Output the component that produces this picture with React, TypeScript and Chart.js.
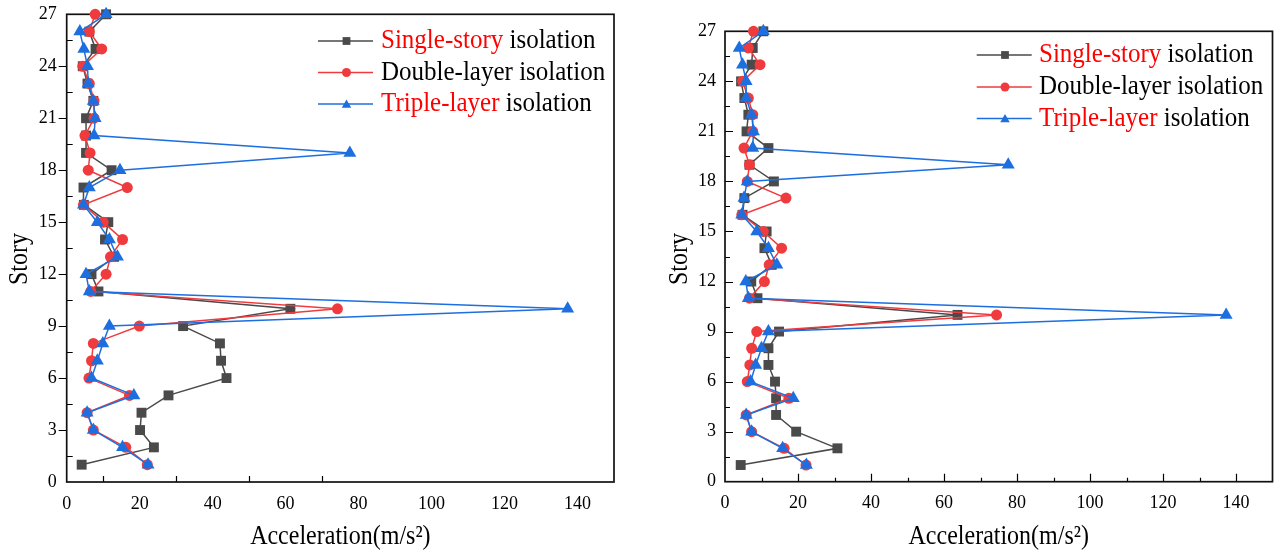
import React, { useEffect, useRef } from 'react';
import { Chart, registerables } from 'chart.js';

Chart.register(...registerables);

// ---------------- data ----------------
const stories = [1, 2, 3, 4, 5, 6, 7, 8, 9, 10, 11, 12, 13, 14, 15, 16, 17, 18, 19, 20, 21, 22, 23, 24, 25, 26, 27];
const xTickValues = [0, 20, 40, 60, 80, 100, 120, 140];
const yTickValues = [0, 3, 6, 9, 12, 15, 18, 21, 24, 27];

// left chart
const singleA = [4.1, 23.9, 20.1, 20.5, 27.9, 43.8, 42.3, 42.0, 31.9, 61.3, 8.7, 6.8, 13.0, 10.5, 11.4, 4.7, 4.6, 12.3, 5.3, 5.3, 5.3, 7.3, 5.7, 4.4, 7.9, 6.2, 10.8];
const doubleA = [22.1, 16.2, 7.3, 5.6, 17.2, 6.1, 6.8, 7.3, 19.9, 74.2, 6.6, 10.8, 12.0, 15.3, 10.0, 4.6, 16.6, 5.9, 6.4, 5.0, 7.5, 7.5, 6.2, 4.4, 9.6, 6.2, 7.8];
const tripleA = [22.3, 15.3, 7.3, 5.6, 18.4, 6.8, 8.4, 9.9, 11.7, 137.3, 6.2, 5.3, 13.9, 11.7, 8.4, 4.6, 6.2, 14.6, 77.6, 7.5, 7.8, 7.3, 5.9, 5.7, 4.7, 3.6, 10.8];

// right chart
const singleB = [4.3, 30.8, 19.5, 14.0, 14.0, 13.7, 11.9, 11.9, 14.8, 63.7, 8.9, 7.2, 12.8, 10.8, 11.4, 4.8, 5.3, 13.4, 6.7, 11.9, 5.9, 6.4, 5.3, 4.4, 7.3, 7.6, 10.5];
const doubleB = [22.2, 16.2, 7.3, 5.8, 17.5, 6.1, 6.8, 7.3, 8.7, 74.4, 6.7, 10.8, 12.1, 15.5, 10.5, 4.6, 16.7, 6.1, 6.7, 5.2, 7.6, 7.6, 6.4, 4.8, 9.6, 6.4, 7.8];
const tripleB = [22.3, 15.8, 7.3, 5.8, 18.7, 7.0, 8.4, 10.0, 11.9, 137.3, 6.4, 5.7, 14.2, 11.9, 8.7, 4.6, 5.2, 6.1, 77.6, 7.6, 7.8, 7.3, 5.8, 5.8, 4.8, 3.9, 10.5];

const seriesLabels = ['Single-story isolation', 'Double-layer isolation', 'Triple-layer isolation'];
const xTitle = 'Acceleration(m/s²)';
const yTitle = 'Story';

// ---------------- styles ----------------
const BLACK = '#4a4a4a';
const RED = '#ef3b3d';
const BLUE = '#1d6fdf';
const TXT_RED = '#ff0000';
const FONT = "'Liberation Serif', 'Times New Roman', serif";
const STRETCH = 1.1;

Chart.defaults.font.family = FONT;

const legendSegments = [
  [{ t: 'Single-story', c: TXT_RED }, { t: ' isolation', c: '#000' }],
  [{ t: 'Double-layer isolation', c: '#000' }],
  [{ t: 'Triple-layer', c: TXT_RED }, { t: ' isolation', c: '#000' }],
];
const legendMarkers = [
  { color: BLACK, style: 'rect' },
  { color: RED, style: 'circle' },
  { color: BLUE, style: 'triangle' },
];

type Layout = {
  x: number; w: number; h: number;
  left: number; top: number; right: number; bottom: number;
  yLabelPad: number;
  yTitleX: number; yTitleY: number; xTitleY: number;
  legendLine: [number, number]; legendMarkerX: number; legendTextX: number; legendRows: number[];
  xTicks: { v: number; len: number }[];
  yTicks: { v: number; len: number }[];
};

const layoutA: Layout = {
  x: 0, w: 640, h: 551,
  left: 66.7, top: 14.3, right: 614, bottom: 482,
  yLabelPad: 10,
  yTitleX: 20, yTitleY: 259, xTitleY: 537,
  legendLine: [318, 373], legendMarkerX: 346.5, legendTextX: 381, legendRows: [41, 72.5, 104],
  xTicks: [10, 30, 50, 70].map((v) => ({ v, len: 6 })),
  // labelled ticks point outward (negative length), the ones between point inward
  yTicks: [1.5, 3, 4.5, 6, 7.5, 9, 10.5, 12, 13.5, 15, 16.5, 18, 19.5, 21, 22.5, 24, 25.5].map((v) => ({ v, len: v % 3 === 0 ? -8 : 6 })),
};

const layoutB: Layout = {
  x: 640, w: 641, h: 551,
  left: 85, top: 31.3, right: 632.5, bottom: 481.7,
  yLabelPad: 9,
  yTitleX: 40, yTitleY: 259, xTitleY: 537,
  legendLine: [336.7, 391.7], legendMarkerX: 365, legendTextX: 399, legendRows: [55, 87, 118.5],
  xTicks: [10, 20, 30, 40, 50, 60, 70, 80, 90, 100, 110, 120, 130, 140].map((v) => ({ v, len: v % 20 === 0 ? 8 : 4 })),
  yTicks: [1.5, 3, 4.5, 6, 7.5, 9, 10.5, 12, 13.5, 15, 16.5, 18, 19.5, 21, 22.5, 24, 25.5].map((v) => ({ v, len: v % 3 === 0 ? 8 : 5 })),
};

function drawMarker(ctx: CanvasRenderingContext2D, style: string, x: number, y: number, r: number, color: string) {
  ctx.fillStyle = color;
  ctx.beginPath();
  if (style === 'rect') {
    const s = Math.SQRT1_2 * r;
    ctx.rect(x - s, y - s, 2 * s, 2 * s);
  } else if (style === 'circle') {
    ctx.arc(x, y, r, 0, Math.PI * 2);
  } else {
    ctx.moveTo(x, y - r);
    ctx.lineTo(x + r * Math.sin((2 * Math.PI) / 3), y - r * Math.cos((2 * Math.PI) / 3));
    ctx.lineTo(x + r * Math.sin((4 * Math.PI) / 3), y - r * Math.cos((4 * Math.PI) / 3));
    ctx.closePath();
  }
  ctx.fill();
}

function makePlugin(L: Layout) {
  return {
    id: 'customDecor',
    beforeDatasetsDraw(chart: any) {
      const { ctx, chartArea: a, scales } = chart;
      ctx.save();
      ctx.strokeStyle = '#000';
      ctx.lineWidth = 1.2;
      ctx.beginPath();
      for (const t of L.yTicks) {
        const py = Math.round(scales.y.getPixelForValue(t.v)) + 0.5;
        ctx.moveTo(a.left, py);
        ctx.lineTo(a.left + t.len, py);
      }
      for (const t of L.xTicks) {
        const px = Math.round(scales.x.getPixelForValue(t.v)) + 0.5;
        ctx.moveTo(px, a.bottom);
        ctx.lineTo(px, a.bottom - t.len);
      }
      ctx.stroke();
      ctx.lineWidth = 1.7;
      ctx.strokeStyle = '#111';
      ctx.strokeRect(a.left, a.top, a.right - a.left, a.bottom - a.top);
      ctx.restore();
    },
    afterDraw(chart: any) {
      const { ctx, chartArea: a } = chart;
      // axis titles
      ctx.save();
      ctx.font = `24px ${FONT}`;
      ctx.fillStyle = '#000';
      ctx.textAlign = 'center';
      ctx.textBaseline = 'middle';
      ctx.translate((a.left + a.right) / 2, L.xTitleY);
      ctx.scale(1, STRETCH);
      ctx.fillText(xTitle, 0, 0);
      ctx.restore();

      ctx.save();
      ctx.font = `24px ${FONT}`;
      ctx.fillStyle = '#000';
      ctx.textAlign = 'center';
      ctx.textBaseline = 'middle';
      ctx.translate(L.yTitleX, L.yTitleY);
      ctx.rotate(-Math.PI / 2);
      ctx.scale(1, STRETCH);
      ctx.fillText(yTitle, 0, 0);
      ctx.restore();

      // legend
      ctx.save();
      ctx.font = `25px ${FONT}`;
      ctx.textBaseline = 'middle';
      ctx.textAlign = 'left';
      L.legendRows.forEach((ry, i) => {
        const m = legendMarkers[i];
        ctx.strokeStyle = m.color;
        ctx.lineWidth = 1.5;
        ctx.beginPath();
        ctx.moveTo(L.legendLine[0], ry);
        ctx.lineTo(L.legendLine[1], ry);
        ctx.stroke();
        const r = m.style === 'rect' ? 5.5 : m.style === 'circle' ? 4.5 : 5.5;
        drawMarker(ctx, m.style, L.legendMarkerX, ry + (m.style === 'triangle' ? 1 : 0), r, m.color);
        let tx = L.legendTextX;
        for (const seg of legendSegments[i]) {
          ctx.save();
          ctx.fillStyle = seg.c;
          ctx.translate(tx, ry);
          ctx.scale(1, STRETCH);
          ctx.fillText(seg.t, 0, 0);
          ctx.restore();
          tx += ctx.measureText(seg.t).width;
        }
      });
      ctx.restore();
    },
  };
}

function makeDataset(label: string, values: number[], color: string, style: string, radius: number, order: number) {
  return {
    label,
    data: stories.map((s, i) => ({ x: values[i], y: s })),
    borderColor: color,
    backgroundColor: color,
    pointBackgroundColor: color,
    pointBorderColor: color,
    pointBorderWidth: 0,
    pointStyle: style,
    pointRadius: radius,
    borderWidth: 1.5,
    tension: 0,
    clip: false as any,
    order,
  };
}

function AccelChart({ single, double, triple, L }: { single: number[]; double: number[]; triple: number[]; L: Layout }) {
  const ref = useRef<HTMLCanvasElement>(null);
  useEffect(() => {
    if (!ref.current) return;
    const chart = new Chart(ref.current, {
      type: 'line',
      data: {
        datasets: [
          makeDataset(seriesLabels[0], single, BLACK, 'rect', 7, 3),
          makeDataset(seriesLabels[1], double, RED, 'circle', 5.5, 2),
          makeDataset(seriesLabels[2], triple, BLUE, 'triangle', 7.5, 1),
        ] as any,
      },
      options: {
        responsive: false,
        animation: false,
        events: [],
        layout: { padding: { top: L.top, right: L.w - L.right, bottom: 0, left: 0 } },
        plugins: { legend: { display: false }, tooltip: { enabled: false } },
        scales: {
          x: {
            type: 'linear',
            min: 0,
            max: 150,
            grid: { display: false, drawTicks: false },
            border: { display: false },
            ticks: { color: '#000', font: { size: 18, family: FONT }, padding: 11, maxRotation: 0, autoSkip: false },
            afterBuildTicks: (s: any) => { s.ticks = xTickValues.map((v) => ({ value: v })); },
            afterFit: (s: any) => {
              s.height = L.h - L.bottom;
              s.paddingLeft = 0;
              s.paddingRight = 0;
              s.paddingTop = 0;
              s.paddingBottom = 0;
            },
          },
          y: {
            type: 'linear',
            min: 0,
            max: 27,
            grid: { display: false, drawTicks: false },
            border: { display: false },
            ticks: { color: '#000', font: { size: 18, family: FONT }, padding: L.yLabelPad, autoSkip: false },
            afterBuildTicks: (s: any) => { s.ticks = yTickValues.map((v) => ({ value: v })); },
            afterFit: (s: any) => {
              s.width = L.left;
              s.paddingLeft = 0;
              s.paddingRight = 0;
              s.paddingTop = 0;
              s.paddingBottom = 0;
            },
          },
        },
      } as any,
      plugins: [makePlugin(L)],
    });
    return () => chart.destroy();
  }, []);
  return (
    <canvas
      ref={ref}
      width={L.w}
      height={L.h}
      style={{ position: 'absolute', left: L.x, top: 0, width: L.w, height: L.h }}
    />
  );
}

export default function App() {
  useEffect(() => {
    document.body.style.margin = '0';
    document.body.style.background = '#fff';
  }, []);
  return (
    <div style={{ position: 'relative', width: 1281, height: 551, background: '#fff', overflow: 'hidden' }}>
      <AccelChart single={singleA} double={doubleA} triple={tripleA} L={layoutA} />
      <AccelChart single={singleB} double={doubleB} triple={tripleB} L={layoutB} />
    </div>
  );
}
